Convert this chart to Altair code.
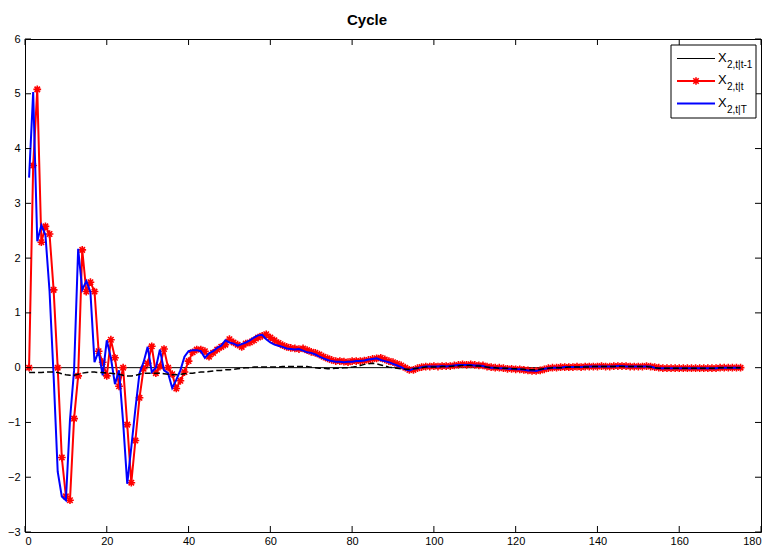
import altair as alt
import pandas as pd

# ---------------- data ----------------
t_vals = list(range(1, 176))

x2_tt = [
    0.0, 3.69, 5.08, 2.29, 2.58, 2.44, 1.42, 0.0, -1.64, -2.35,
    -2.42, -0.93, -0.15, 2.15, 1.39, 1.56, 1.39, 0.30, 0.10, -0.15,
    0.51, 0.18, -0.34, 0.0, -1.04, -2.10, -1.33, -0.55, -0.02, 0.08,
    0.39, -0.10, 0.02, 0.34, 0.0, -0.12, -0.38, -0.24, -0.08, 0.12,
    0.28, 0.33, 0.33, 0.30, 0.20, 0.27, 0.33, 0.38, 0.42, 0.52,
    0.46, 0.42, 0.38, 0.44, 0.46, 0.50, 0.55, 0.58, 0.61, 0.55,
    0.50, 0.45, 0.41, 0.38, 0.36, 0.35, 0.34, 0.35, 0.32, 0.29,
    0.27, 0.24, 0.20, 0.17, 0.14, 0.12, 0.12, 0.11, 0.10, 0.12,
    0.12, 0.12, 0.13, 0.14, 0.16, 0.17, 0.18, 0.15, 0.12, 0.10,
    0.07, 0.04, 0.00, -0.04, -0.04, -0.01, 0.01, 0.02, 0.02, 0.03,
    0.02, 0.03, 0.03, 0.03, 0.04, 0.05, 0.06, 0.05, 0.06, 0.05,
    0.04, 0.04, 0.02, 0.01, 0.00, 0.00, -0.01, -0.02, -0.02, -0.03,
    -0.03, -0.04, -0.05, -0.06, -0.06, -0.05, -0.03, -0.01, 0.00, 0.00,
    0.01, 0.01, 0.01, 0.01, 0.02, 0.01, 0.02, 0.02, 0.02, 0.02,
    0.03, 0.02, 0.02, 0.03, 0.03, 0.03, 0.03, 0.02, 0.02, 0.02,
    0.02, 0.03, 0.02, 0.01, 0.00, -0.01, -0.01, -0.01, -0.01, -0.01,
    -0.01, -0.01, -0.01, -0.01, -0.01, -0.01, -0.01, -0.01, -0.01, 0.00,
    0.00, 0.00, 0.00, 0.00, 0.00,
]

x2_tT = [
    3.47, 5.03, 2.31, 2.60, 2.42, 1.40, -0.15, -1.90, -2.35, -2.42,
    -0.95, -0.05, 2.17, 1.42, 1.58, 1.38, 0.10, 0.30, -0.14, 0.50,
    0.18, -0.30, -0.05, -1.00, -2.12, -1.45, -0.75, -0.10, 0.10, 0.38,
    -0.08, 0.00, 0.33, -0.05, -0.10, -0.37, -0.22, -0.05, 0.20, 0.30,
    0.32, 0.32, 0.30, 0.18, 0.26, 0.30, 0.36, 0.40, 0.50, 0.46,
    0.44, 0.40, 0.43, 0.46, 0.50, 0.55, 0.59, 0.60, 0.52, 0.46,
    0.42, 0.40, 0.38, 0.35, 0.34, 0.33, 0.34, 0.31, 0.28, 0.27,
    0.24, 0.20, 0.17, 0.14, 0.12, 0.11, 0.11, 0.10, 0.11, 0.11,
    0.12, 0.12, 0.13, 0.15, 0.16, 0.17, 0.14, 0.12, 0.10, 0.07,
    0.04, 0.01, -0.03, -0.05, -0.02, -0.01, 0.01, 0.02, 0.02, 0.02,
    0.02, 0.03, 0.02, 0.03, 0.04, 0.05, 0.05, 0.05, 0.05, 0.04,
    0.04, 0.03, 0.01, 0.00, 0.00, -0.01, -0.01, -0.02, -0.02, -0.03,
    -0.03, -0.04, -0.05, -0.05, -0.06, -0.04, -0.02, -0.01, 0.00, 0.00,
    0.00, 0.01, 0.01, 0.01, 0.01, 0.01, 0.02, 0.02, 0.02, 0.02,
    0.02, 0.02, 0.02, 0.02, 0.03, 0.03, 0.02, 0.02, 0.02, 0.02,
    0.02, 0.02, 0.02, 0.00, -0.01, -0.01, -0.01, -0.01, -0.01, -0.01,
    -0.01, -0.01, -0.01, -0.01, -0.01, -0.01, -0.01, -0.01, -0.01, 0.00,
    0.00, 0.00, 0.00, 0.00, 0.00,
]

x2_dashed = [
    -0.09, -0.09, -0.09, -0.09, -0.08, -0.08, -0.08, -0.09, -0.11, -0.13,
    -0.14, -0.14, -0.12, -0.10, -0.09, -0.08, -0.08, -0.09, -0.09, -0.10,
    -0.10, -0.11, -0.12, -0.14, -0.15, -0.15, -0.14, -0.12, -0.10, -0.10,
    -0.10, -0.10, -0.10, -0.11, -0.12, -0.13, -0.13, -0.12, -0.11, -0.10,
    -0.10, -0.09, -0.08, -0.08, -0.07, -0.06, -0.05, -0.05, -0.04, -0.04,
    -0.03, -0.02, -0.01, 0.00, 0.00, 0.01, 0.01, 0.01, 0.01, 0.01,
    0.01, 0.01, 0.02, 0.02, 0.02, 0.02, 0.02, 0.02, 0.02, 0.01,
    0.00, -0.01, -0.01, -0.02, -0.02, -0.01, -0.01, 0.00, 0.00, 0.01,
    0.02, 0.04, 0.06, 0.07, 0.08, 0.07, 0.05, 0.03, 0.01, 0.00,
    -0.01, -0.02, -0.03, -0.03, -0.02, -0.01, 0.00, 0.01, 0.01, 0.01,
    0.01, 0.02, 0.02, 0.02, 0.03, 0.03, 0.04, 0.04, 0.04, 0.03,
    0.03, 0.02, 0.01, 0.00, 0.00, -0.01, -0.01, -0.01, -0.02, -0.02,
    -0.03, -0.03, -0.04, -0.04, -0.04, -0.03, -0.02, -0.01, 0.00, 0.00,
    0.00, 0.00, 0.01, 0.01, 0.01, 0.01, 0.01, 0.01, 0.02, 0.02,
    0.02, 0.02, 0.02, 0.02, 0.02, 0.02, 0.02, 0.02, 0.02, 0.02,
    0.02, 0.02, 0.01, 0.00, -0.01, -0.01, -0.01, -0.01, -0.01, -0.01,
    -0.01, -0.01, -0.01, -0.01, -0.01, -0.01, -0.01, -0.01, -0.01, 0.00,
    0.00, 0.00, 0.00, 0.00, 0.00,
]

zero_line = {"t_start": [1], "t_end": [175], "value": [0.0]}

x_ticks = [0, 20, 40, 60, 80, 100, 120, 140, 160, 180]
y_ticks = [-3, -2, -1, 0, 1, 2, 3, 4, 5, 6]

legend_labels = ["2,t|t-1", "2,t|t", "2,t|T"]

# ---------------- layout ----------------
W, H = 736, 493
FONT = "Liberation Sans"

df = pd.DataFrame({"t": t_vals, "tt": x2_tt, "tT": x2_tT, "dash": x2_dashed})
zdf = pd.DataFrame(zero_line)
xt = pd.DataFrame({"v": x_ticks})
yt = pd.DataFrame({"v": y_ticks})
one = pd.DataFrame({"a": [0]})

xs = alt.Scale(domain=[0, 180], nice=False, zero=False)
ys = alt.Scale(domain=[-3, 6], nice=False, zero=False)

x_axis = alt.Axis(values=x_ticks, format="d", ticks=False, domain=False, grid=False,
                  labelPadding=3, labelFont=FONT, labelFontSize=11, labelColor="black",
                  title=None)
y_axis = alt.Axis(values=y_ticks, format="d", ticks=False, domain=False, grid=False,
                  labelPadding=5, labelFont=FONT, labelFontSize=11, labelColor="black",
                  title=None)

base = alt.Chart(df)

zero = alt.Chart(zdf).mark_rule(color="black", strokeWidth=1).encode(
    x=alt.X("t_start:Q", scale=xs, axis=x_axis),
    x2="t_end:Q",
    y=alt.Y("value:Q", scale=ys, axis=y_axis),
)

red_line = base.mark_line(color="#ff0000", strokeWidth=2).encode(
    x=alt.X("t:Q", scale=xs), y=alt.Y("tt:Q", scale=ys))

star = "M-1,0L1,0M0,-1L0,1M-0.7,-0.7L0.7,0.7M-0.7,0.7L0.7,-0.7"
red_pts = base.mark_point(shape=star, filled=False, color="#ff0000", size=60,
                          strokeWidth=1.6, opacity=1).encode(
    x=alt.X("t:Q", scale=xs), y=alt.Y("tt:Q", scale=ys))

blue_line = base.mark_line(color="#0000ff", strokeWidth=2).encode(
    x=alt.X("t:Q", scale=xs), y=alt.Y("tT:Q", scale=ys))

dash_line = base.mark_line(color="black", strokeWidth=1.5, strokeDash=[6, 3]).encode(
    x=alt.X("t:Q", scale=xs), y=alt.Y("dash:Q", scale=ys))

# inward ticks on all four sides
tick_b = alt.Chart(xt).mark_rule(color="black").encode(
    x=alt.X("v:Q", scale=xs), y=alt.value(H), y2=alt.value(H - 6))
tick_t = alt.Chart(xt).mark_rule(color="black").encode(
    x=alt.X("v:Q", scale=xs), y=alt.value(0), y2=alt.value(6))
tick_l = alt.Chart(yt).mark_rule(color="black").encode(
    y=alt.Y("v:Q", scale=ys), x=alt.value(0), x2=alt.value(6))
tick_r = alt.Chart(yt).mark_rule(color="black").encode(
    y=alt.Y("v:Q", scale=ys), x=alt.value(W - 6), x2=alt.value(W))

# title
title = alt.Chart(one).mark_text(text="Cycle", font=FONT, fontSize=15, fontWeight="bold",
                                 align="center", baseline="alphabetic").encode(
    x=alt.value(342), y=alt.value(-14))

# legend box
LX0, LX1, LY0, LY1 = 646, 731, 6, 79
leg_box = alt.Chart(one).mark_rect(fill="white", stroke="black", strokeWidth=1).encode(
    x=alt.value(LX0), x2=alt.value(LX1), y=alt.value(LY0), y2=alt.value(LY1))
rows = [19.5, 42, 64.5]
leg_l1 = alt.Chart(one).mark_rule(color="black", strokeWidth=1).encode(
    x=alt.value(652), x2=alt.value(690), y=alt.value(rows[0]))
leg_l2 = alt.Chart(one).mark_rule(color="#ff0000", strokeWidth=2).encode(
    x=alt.value(652), x2=alt.value(690), y=alt.value(rows[1]))
leg_p2 = alt.Chart(one).mark_point(shape=star, filled=False, color="#ff0000", size=60,
                                   strokeWidth=1.6, opacity=1).encode(
    x=alt.value(671), y=alt.value(rows[1]))
leg_l3 = alt.Chart(one).mark_rule(color="#0000ff", strokeWidth=2).encode(
    x=alt.value(652), x2=alt.value(690), y=alt.value(rows[2]))

leg_texts = []
for r, lab in zip(rows, legend_labels):
    leg_texts.append(alt.Chart(one).mark_text(text="X", font=FONT, fontSize=13, align="left",
                                              baseline="alphabetic").encode(
        x=alt.value(693), y=alt.value(r + 3)))
    leg_texts.append(alt.Chart(one).mark_text(text=lab, font=FONT, fontSize=10, align="left",
                                              baseline="alphabetic").encode(
        x=alt.value(702), y=alt.value(r + 9)))

chart = alt.layer(
    zero, red_line, red_pts, blue_line, dash_line,
    tick_b, tick_t, tick_l, tick_r,
    title, leg_box, leg_l1, leg_l2, leg_p2, leg_l3, *leg_texts,
).properties(
    width=W, height=H,
    autosize=alt.AutoSizeParams(type="none"),
    padding={"left": 17, "top": 31, "right": 4, "bottom": 16},
).configure_view(stroke="black", strokeWidth=1)

chart.save("out.html", embed_options={"renderer": "svg", "actions": False})
